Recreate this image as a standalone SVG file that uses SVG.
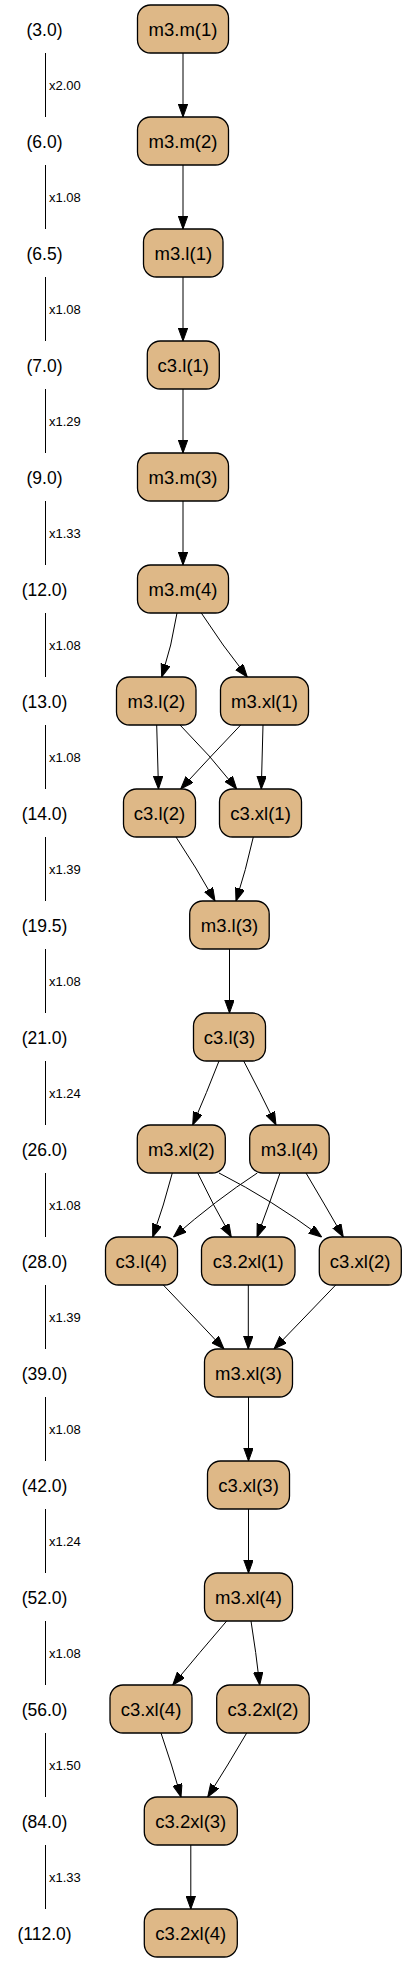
<svg xmlns="http://www.w3.org/2000/svg" width="407" height="1963" viewBox="0 0 407 1963">
<style>
.n rect{fill:#DEB887;stroke:#000;stroke-width:1.3}
.n text{font-family:"Liberation Sans",Arial,sans-serif;font-size:18.5px;text-anchor:middle;fill:#000}
.rk{font-family:"Liberation Sans",Arial,sans-serif;font-size:17.5px;text-anchor:middle;fill:#000}
.fx{font-family:"Liberation Sans",Arial,sans-serif;font-size:13px;fill:#000}
.bar line{stroke:#000;stroke-width:1}
.e path{fill:none;stroke:#000;stroke-width:1;marker-end:url(#ah)}
</style>
<defs>
<marker id="ah" markerUnits="userSpaceOnUse" markerWidth="13" markerHeight="10" refX="13" refY="4.7" orient="auto">
<path d="M0,0 L13,4.7 L0,9.4 z" fill="#000" stroke="#000" stroke-width="1"/>
</marker>
</defs>
<rect width="407" height="1963" fill="#fff"/>
<g id="ranks">
<text class="rk" x="44.5" y="35.5">(3.0)</text>
<text class="rk" x="44.5" y="147.5">(6.0)</text>
<text class="rk" x="44.5" y="259.5">(6.5)</text>
<text class="rk" x="44.5" y="371.5">(7.0)</text>
<text class="rk" x="44.5" y="483.5">(9.0)</text>
<text class="rk" x="44.5" y="595.5">(12.0)</text>
<text class="rk" x="44.5" y="707.5">(13.0)</text>
<text class="rk" x="44.5" y="819.5">(14.0)</text>
<text class="rk" x="44.5" y="931.5">(19.5)</text>
<text class="rk" x="44.5" y="1043.5">(21.0)</text>
<text class="rk" x="44.5" y="1155.5">(26.0)</text>
<text class="rk" x="44.5" y="1267.5">(28.0)</text>
<text class="rk" x="44.5" y="1379.5">(39.0)</text>
<text class="rk" x="44.5" y="1491.5">(42.0)</text>
<text class="rk" x="44.5" y="1603.5">(52.0)</text>
<text class="rk" x="44.5" y="1715.5">(56.0)</text>
<text class="rk" x="44.5" y="1827.5">(84.0)</text>
<text class="rk" x="44.5" y="1939.5">(112.0)</text>
</g>
<g id="factors" class="bar">
<line x1="45.5" y1="53" x2="45.5" y2="117"/><text class="fx" x="49" y="89.5">x2.00</text>
<line x1="45.5" y1="165" x2="45.5" y2="229"/><text class="fx" x="49" y="201.5">x1.08</text>
<line x1="45.5" y1="277" x2="45.5" y2="341"/><text class="fx" x="49" y="313.5">x1.08</text>
<line x1="45.5" y1="389" x2="45.5" y2="453"/><text class="fx" x="49" y="425.5">x1.29</text>
<line x1="45.5" y1="501" x2="45.5" y2="565"/><text class="fx" x="49" y="537.5">x1.33</text>
<line x1="45.5" y1="613" x2="45.5" y2="677"/><text class="fx" x="49" y="649.5">x1.08</text>
<line x1="45.5" y1="725" x2="45.5" y2="789"/><text class="fx" x="49" y="761.5">x1.08</text>
<line x1="45.5" y1="837" x2="45.5" y2="901"/><text class="fx" x="49" y="873.5">x1.39</text>
<line x1="45.5" y1="949" x2="45.5" y2="1013"/><text class="fx" x="49" y="985.5">x1.08</text>
<line x1="45.5" y1="1061" x2="45.5" y2="1125"/><text class="fx" x="49" y="1097.5">x1.24</text>
<line x1="45.5" y1="1173" x2="45.5" y2="1237"/><text class="fx" x="49" y="1209.5">x1.08</text>
<line x1="45.5" y1="1285" x2="45.5" y2="1349"/><text class="fx" x="49" y="1321.5">x1.39</text>
<line x1="45.5" y1="1397" x2="45.5" y2="1461"/><text class="fx" x="49" y="1433.5">x1.08</text>
<line x1="45.5" y1="1509" x2="45.5" y2="1573"/><text class="fx" x="49" y="1545.5">x1.24</text>
<line x1="45.5" y1="1621" x2="45.5" y2="1685"/><text class="fx" x="49" y="1657.5">x1.08</text>
<line x1="45.5" y1="1733" x2="45.5" y2="1797"/><text class="fx" x="49" y="1769.5">x1.50</text>
<line x1="45.5" y1="1845" x2="45.5" y2="1909"/><text class="fx" x="49" y="1881.5">x1.33</text>
</g>
<g id="edges" class="e">
<path d="M183,53 L183,117"/>
<path d="M183,165 L183,229"/>
<path d="M183,277 L183,341"/>
<path d="M183,389 L183,453"/>
<path d="M183,501 L183,565"/>
<path d="M177,613 Q172,645 161.7,677"/>
<path d="M201.3,613 Q222,645 247.3,677"/>
<path d="M156.7,725 L158.5,789"/>
<path d="M180,725 Q210,755 236.7,789"/>
<path d="M240.7,725 Q212,755 180.7,789"/>
<path d="M263,725 L261.3,789"/>
<path d="M176,837 Q196,867 215,901"/>
<path d="M253.3,837 Q246,870 236,901"/>
<path d="M229.5,949 L229.5,1013"/>
<path d="M219,1061 Q207,1092 192.7,1125"/>
<path d="M243.7,1061 Q260,1092 276,1125"/>
<path d="M172.3,1173 Q164,1205 152.7,1237"/>
<path d="M197.7,1173 Q213,1205 231.3,1237"/>
<path d="M219,1173 Q272,1200 321.7,1237"/>
<path d="M257.3,1173 Q216,1200 173.5,1237"/>
<path d="M280,1173 Q269,1205 257,1237"/>
<path d="M306,1173 Q325,1205 343.3,1237"/>
<path d="M163.3,1285 Q194,1317 224,1349"/>
<path d="M248.3,1285 L248.3,1349"/>
<path d="M335.7,1285 Q305,1317 274,1349"/>
<path d="M248.5,1397 L248.5,1461"/>
<path d="M248.5,1509 L248.5,1573"/>
<path d="M226.7,1621 Q200,1652 172.7,1685"/>
<path d="M251,1621 Q256,1652 259.7,1685"/>
<path d="M161,1733 Q172,1765 181,1797"/>
<path d="M246.7,1733 Q228,1765 207.7,1797"/>
<path d="M190.8,1845 L190.8,1909"/>
</g>
<g id="n_m3m1" class="n"><rect x="137.5" y="5" width="91" height="48" rx="13"/><text x="183" y="35.5">m3.m(1)</text></g>
<g id="n_m3m2" class="n"><rect x="137.5" y="117" width="91" height="48" rx="13"/><text x="183" y="147.5">m3.m(2)</text></g>
<g id="n_m3l1" class="n"><rect x="143.5" y="229" width="79.5" height="48" rx="13"/><text x="183.3" y="259.5">m3.l(1)</text></g>
<g id="n_c3l1" class="n"><rect x="147.3" y="341" width="72" height="48" rx="13"/><text x="183.3" y="371.5">c3.l(1)</text></g>
<g id="n_m3m3" class="n"><rect x="137.5" y="453" width="91" height="48" rx="13"/><text x="183" y="483.5">m3.m(3)</text></g>
<g id="n_m3m4" class="n"><rect x="137.5" y="565" width="91" height="48" rx="13"/><text x="183" y="595.5">m3.m(4)</text></g>
<g id="n_m3l2" class="n"><rect x="116.5" y="677" width="79.5" height="48" rx="13"/><text x="156.3" y="707.5">m3.l(2)</text></g>
<g id="n_m3xl1" class="n"><rect x="220.5" y="677" width="88" height="48" rx="13"/><text x="264.5" y="707.5">m3.xl(1)</text></g>
<g id="n_c3l2" class="n"><rect x="123.5" y="789" width="72" height="48" rx="13"/><text x="159.5" y="819.5">c3.l(2)</text></g>
<g id="n_c3xl1" class="n"><rect x="219.5" y="789" width="82" height="48" rx="13"/><text x="260.5" y="819.5">c3.xl(1)</text></g>
<g id="n_m3l3" class="n"><rect x="189.7" y="901" width="79.5" height="48" rx="13"/><text x="229.5" y="931.5">m3.l(3)</text></g>
<g id="n_c3l3" class="n"><rect x="193.5" y="1013" width="72" height="48" rx="13"/><text x="229.5" y="1043.5">c3.l(3)</text></g>
<g id="n_m3xl2" class="n"><rect x="137.3" y="1125" width="88" height="48" rx="13"/><text x="181.3" y="1155.5">m3.xl(2)</text></g>
<g id="n_m3l4" class="n"><rect x="249.7" y="1125" width="79.5" height="48" rx="13"/><text x="289.5" y="1155.5">m3.l(4)</text></g>
<g id="n_c3l4" class="n"><rect x="105.5" y="1237" width="72" height="48" rx="13"/><text x="141.3" y="1267.5">c3.l(4)</text></g>
<g id="n_c32xl1" class="n"><rect x="201.5" y="1237" width="93.5" height="48" rx="13"/><text x="248.2" y="1267.5">c3.2xl(1)</text></g>
<g id="n_c3xl2" class="n"><rect x="319.3" y="1237" width="82" height="48" rx="13"/><text x="360.2" y="1267.5">c3.xl(2)</text></g>
<g id="n_m3xl3" class="n"><rect x="204.5" y="1349" width="88" height="48" rx="13"/><text x="248.5" y="1379.5">m3.xl(3)</text></g>
<g id="n_c3xl3" class="n"><rect x="207.5" y="1461" width="82" height="48" rx="13"/><text x="248.5" y="1491.5">c3.xl(3)</text></g>
<g id="n_m3xl4" class="n"><rect x="204.5" y="1573" width="88" height="48" rx="13"/><text x="248.5" y="1603.5">m3.xl(4)</text></g>
<g id="n_c3xl4" class="n"><rect x="110" y="1685" width="82" height="48" rx="13"/><text x="151" y="1715.5">c3.xl(4)</text></g>
<g id="n_c32xl2" class="n"><rect x="216.7" y="1685" width="92.5" height="48" rx="13"/><text x="263" y="1715.5">c3.2xl(2)</text></g>
<g id="n_c32xl3" class="n"><rect x="144.3" y="1797" width="93" height="48" rx="13"/><text x="190.8" y="1827.5">c3.2xl(3)</text></g>
<g id="n_c32xl4" class="n"><rect x="144.3" y="1909" width="93" height="48" rx="13"/><text x="190.8" y="1939.5">c3.2xl(4)</text></g>
</svg>
